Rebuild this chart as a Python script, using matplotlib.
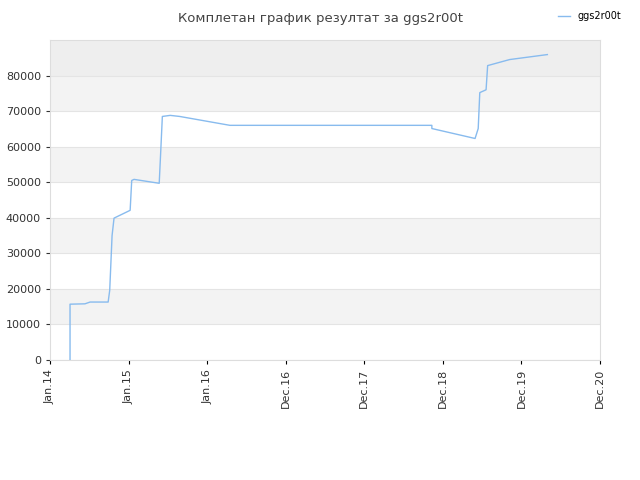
import matplotlib
matplotlib.use("Agg")
import matplotlib.pyplot as plt

# x in years since the Jan.14 tick, y = score
years = [0.255, 0.255, 0.445, 0.51, 0.74, 0.76, 0.79, 0.815, 1.02, 1.04, 1.07, 1.39, 1.41, 1.43,
         1.53, 1.65, 2.29, 4.86, 4.86, 5.41, 5.45, 5.47, 5.55, 5.57, 5.85, 6.33]
scores = [0, 15700, 15800, 16300, 16300, 19600, 35000, 39900, 42100, 50500, 50800, 49700, 59000, 68500,
          68800, 68500, 66000, 66000, 65100, 62300, 65100, 75200, 76000, 82800, 84500, 85900]
tick_labels = ["Jan.14", "Jan.15", "Jan.16", "Dec.16", "Dec.17", "Dec.18", "Dec.19", "Dec.20"]

fig = plt.figure(figsize=(6.4, 4.8), dpi=100)
ax = fig.add_axes([50/640, 120/480, 550/640, 320/480])

ax.set_xlim(0, 7)
ax.set_ylim(0, 90000)
for i in range(9):
    if i == 8:
        c = "#eeeeee"
    elif i % 2 == 1:
        c = "#f3f3f3"
    else:
        c = "white"
    ax.axhspan(i * 10000, (i + 1) * 10000, color=c, zorder=0, lw=0)
    ax.axhline(i * 10000, color="#e4e4e4", lw=0.8, zorder=1)

ax.plot(years, scores, color="#88bbee", lw=1, label="ggs2r00t", zorder=3)

ax.set_xticks(range(8))
ax.set_xticklabels(tick_labels, rotation=90, fontsize=8, color="#333333")
ax.set_yticks(range(0, 90000, 10000))
ax.tick_params(axis="y", labelsize=8, colors="#333333", length=3)
ax.tick_params(axis="x", length=3)
for s in ax.spines.values():
    s.set_color("#dddddd")

fig.text(0.5, 0.975, "Комплетан график резултат за ggs2r00t", ha="center", va="top",
         fontsize=9.5, color="#444444")
fig.legend(loc="upper right", bbox_to_anchor=(0.985, 0.995), frameon=False, fontsize=7,
           handlelength=1.2)

fig.savefig("out.png")
